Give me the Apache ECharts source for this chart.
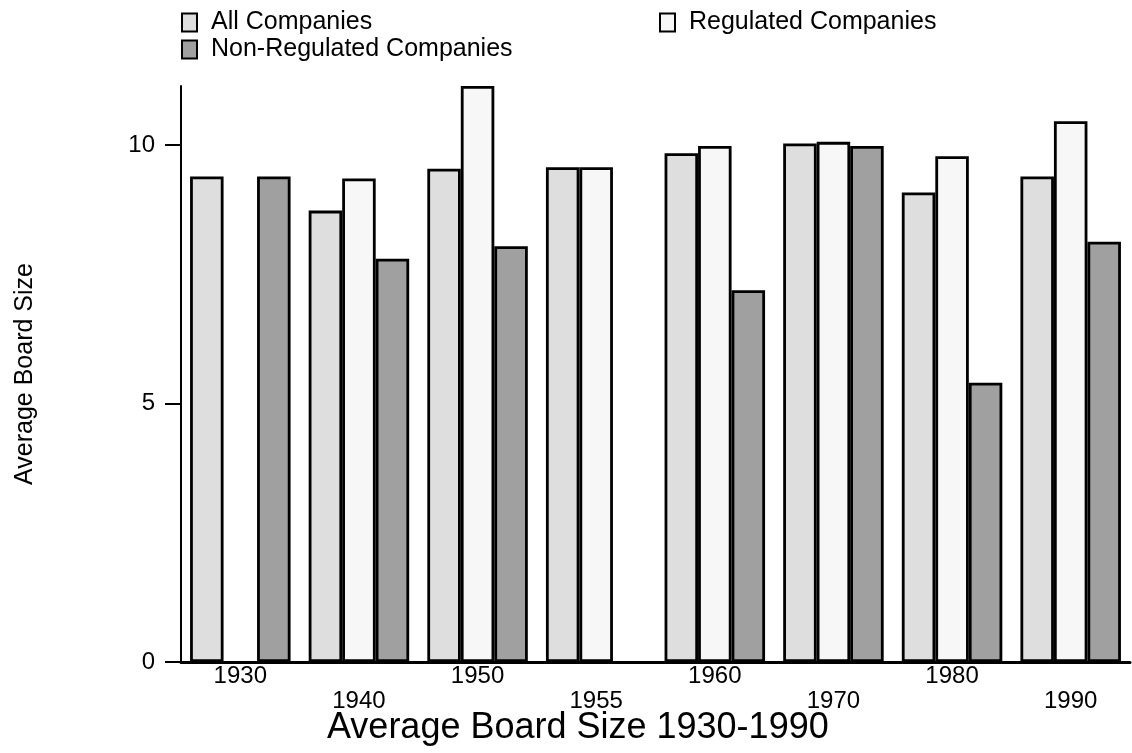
<!DOCTYPE html>
<html>
<head>
<meta charset="utf-8">
<title>Average Board Size 1930-1990</title>
<script src="https://cdn.jsdelivr.net/npm/echarts@6/dist/echarts.min.js"></script>
<style>
  html, body { margin: 0; padding: 0; background: #fff; }
  #chart { width: 1132px; height: 753px; }
</style>
</head>
<body>
<div id="chart"></div>
<script>
// data
var years = ['1930', '1940', '1950', '1955', '1960', '1970', '1980', '1990'];
var allCompanies = [9.39, 8.73, 9.54, 9.57, 9.84, 10.03, 9.08, 9.39];
var regulated = [null, 9.35, 11.14, 9.57, 9.98, 10.06, 9.78, 10.46];
var nonRegulated = [9.39, 7.80, 8.04, null, 7.19, 9.98, 5.40, 8.13];
var yTicks = [0, 5, 10];

var font = 'Liberation Sans, Arial, Helvetica, sans-serif';

// one bar series, same look for all three
function barSeries(name, data, fill) {
  return {
    name: name,
    type: 'bar',
    data: data,
    barWidth: 33.5,
    barGap: '0%',
    itemStyle: { color: fill, borderColor: '#000', borderWidth: 2.8 },
    emphasis: { disabled: true }
  };
}

// legend items sit at fixed spots, so one legend per item
function legendAt(name, left, top) {
  return {
    data: [name],
    left: left,
    top: top,
    padding: 0,
    icon: 'rect',
    itemWidth: 15,
    itemHeight: 18,
    itemStyle: { borderColor: '#000', borderWidth: 2 },
    textStyle: { fontFamily: font, fontSize: 25, color: '#000', padding: [0, 0, 0, 9] },
    selectedMode: false
  };
}

var chart = echarts.init(document.getElementById('chart'));
chart.setOption({
  animation: false,
  title: {
    text: 'Average Board Size 1930-1990',
    left: 327,
    top: 710,
    padding: 0,
    textStyle: { fontFamily: font, fontSize: 36, fontWeight: 'normal', color: '#000' }
  },
  legend: [
    legendAt('All Companies', 181, 10),
    legendAt('Regulated Companies', 659, 10),
    legendAt('Non-Regulated Companies', 181, 37)
  ],
  grid: { left: 181, right: 2, top: 86, bottom: 91, containLabel: false },
  xAxis: {
    type: 'category',
    data: years,
    axisLine: { lineStyle: { color: '#000', width: 3 } },
    axisTick: { show: false },
    axisLabel: {
      interval: 0,
      margin: 2,
      fontFamily: font,
      fontSize: 24,
      lineHeight: 25,
      color: '#000',
      formatter: function (v, i) { return i % 2 ? '\n' + v : v; }
    }
  },
  yAxis: {
    type: 'value',
    min: 0,
    max: function (v) { return v.max; },
    name: 'Average Board Size',
    nameLocation: 'middle',
    nameGap: 143,
    nameTextStyle: { fontFamily: font, fontSize: 25, color: '#000' },
    splitLine: { show: false },
    axisLine: { show: true, lineStyle: { color: '#000', width: 2 } },
    axisTick: { show: true, length: 16, lineStyle: { color: '#000', width: 2 }, customValues: yTicks },
    axisLabel: { margin: 26, fontFamily: font, fontSize: 24, color: '#000', customValues: yTicks }
  },
  series: [
    barSeries('All Companies', allCompanies, '#dedede'),
    barSeries('Regulated Companies', regulated, '#f7f7f7'),
    barSeries('Non-Regulated Companies', nonRegulated, '#a0a0a0')
  ]
});
</script>
</body>
</html>
